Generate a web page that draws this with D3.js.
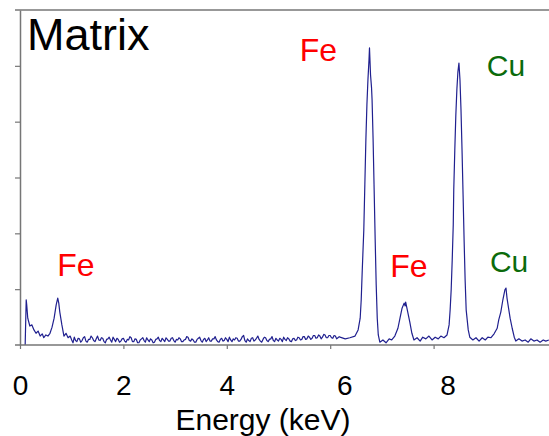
<!DOCTYPE html>
<html>
<head>
<meta charset="utf-8">
<script src="https://cdn.jsdelivr.net/npm/d3@7"></script>
<style>
  body { margin: 0; background: #fff; }
  svg { display: block; font-family: "Liberation Sans", Arial, sans-serif; }
</style>
</head>
<body>
<script>
// EDS spectrum (energy in axis units, intensity in tick units)
var lowEnergy = [0.10, 0.12, 0.13, 0.15, 0.19, 0.23, 0.27, 0.31, 0.35, 0.39, 0.43, 0.46, 0.50, 0.54, 0.58,
                 0.62, 0.66, 0.70, 0.73, 0.75, 0.77, 0.81, 0.85, 0.89, 0.93, 0.97];
var lowCounts = [0.00, 0.81, 0.72, 0.48, 0.34, 0.36, 0.27, 0.21, 0.25, 0.16, 0.20, 0.13, 0.18, 0.16, 0.21,
                 0.32, 0.48, 0.72, 0.84, 0.75, 0.59, 0.36, 0.16, 0.21, 0.13, 0.16];

var baseEnergy = [
  1.000, 1.025, 1.050, 1.075, 1.100, 1.125, 1.150, 1.175, 1.200, 1.225, 1.250, 1.275, 1.300, 1.325, 1.350, 1.375, 1.400, 1.425, 1.450, 1.475,
  1.500, 1.525, 1.550, 1.575, 1.600, 1.625, 1.650, 1.675, 1.700, 1.725, 1.750, 1.775, 1.800, 1.825, 1.850, 1.875, 1.900, 1.925, 1.950, 1.975,
  2.000, 2.025, 2.050, 2.075, 2.100, 2.125, 2.150, 2.175, 2.200, 2.225, 2.250, 2.275, 2.300, 2.325, 2.350, 2.375, 2.400, 2.425, 2.450, 2.475,
  2.500, 2.525, 2.550, 2.575, 2.600, 2.625, 2.650, 2.675, 2.700, 2.725, 2.750, 2.775, 2.800, 2.825, 2.850, 2.875, 2.900, 2.925, 2.950, 2.975,
  3.000, 3.025, 3.050, 3.075, 3.100, 3.125, 3.150, 3.175, 3.200, 3.225, 3.250, 3.275, 3.300, 3.325, 3.350, 3.375, 3.400, 3.425, 3.450, 3.475,
  3.500, 3.525, 3.550, 3.575, 3.600, 3.625, 3.650, 3.675, 3.700, 3.725, 3.750, 3.775, 3.800, 3.825, 3.850, 3.875, 3.900, 3.925, 3.950, 3.975,
  4.000, 4.025, 4.050, 4.075, 4.100, 4.125, 4.150, 4.175, 4.200, 4.225, 4.250, 4.275, 4.300, 4.325, 4.350, 4.375, 4.400, 4.425, 4.450, 4.475,
  4.500, 4.525, 4.550, 4.575, 4.600, 4.625, 4.650, 4.675, 4.700, 4.725, 4.750, 4.775, 4.800, 4.825, 4.850, 4.875, 4.900, 4.925, 4.950, 4.975,
  5.000, 5.025, 5.050, 5.075, 5.100, 5.125, 5.150, 5.175, 5.200, 5.225, 5.250, 5.275, 5.300, 5.325, 5.350, 5.375, 5.400, 5.425, 5.450, 5.475,
  5.500, 5.525, 5.550, 5.575, 5.600, 5.625, 5.650, 5.675, 5.700, 5.725, 5.750, 5.775, 5.800, 5.825, 5.850, 5.875, 5.900, 5.925, 5.950, 5.975,
  6.000, 6.025, 6.050, 6.075, 6.100, 6.125, 6.150, 6.175];
var baseCounts = [
  0.09, 0.04, 0.14, 0.08, 0.06, 0.12, 0.11, 0.05, 0.08, 0.13, 0.15, 0.07, 0.05, 0.10, 0.10, 0.16, 0.13, 0.08, 0.06, 0.11,
  0.16, 0.09, 0.08, 0.13, 0.12, 0.06, 0.04, 0.10, 0.11, 0.14, 0.09, 0.05, 0.14, 0.10, 0.06, 0.12, 0.10, 0.05, 0.07, 0.11,
  0.12, 0.07, 0.05, 0.10, 0.09, 0.15, 0.13, 0.06, 0.06, 0.11, 0.10, 0.04, 0.04, 0.09, 0.11, 0.13, 0.08, 0.05, 0.13, 0.09,
  0.06, 0.11, 0.09, 0.04, 0.05, 0.10, 0.11, 0.14, 0.08, 0.06, 0.12, 0.09, 0.06, 0.13, 0.10, 0.07, 0.07, 0.12, 0.13, 0.08,
  0.05, 0.10, 0.09, 0.13, 0.11, 0.06, 0.06, 0.09, 0.10, 0.15, 0.14, 0.08, 0.07, 0.11, 0.09, 0.05, 0.05, 0.10, 0.12, 0.14,
  0.08, 0.05, 0.10, 0.12, 0.06, 0.09, 0.13, 0.07, 0.07, 0.11, 0.11, 0.15, 0.09, 0.06, 0.05, 0.10, 0.12, 0.07, 0.08, 0.13,
  0.10, 0.06, 0.14, 0.09, 0.06, 0.11, 0.09, 0.13, 0.12, 0.07, 0.07, 0.10, 0.15, 0.17, 0.08, 0.05, 0.11, 0.08, 0.06, 0.12,
  0.13, 0.07, 0.09, 0.12, 0.16, 0.10, 0.07, 0.05, 0.10, 0.14, 0.13, 0.08, 0.06, 0.10, 0.11, 0.15, 0.08, 0.06, 0.12, 0.09,
  0.07, 0.12, 0.10, 0.06, 0.14, 0.10, 0.08, 0.13, 0.11, 0.07, 0.06, 0.11, 0.12, 0.08, 0.09, 0.14, 0.13, 0.09, 0.10, 0.15,
  0.15, 0.10, 0.11, 0.16, 0.14, 0.10, 0.12, 0.17, 0.17, 0.12, 0.13, 0.18, 0.16, 0.11, 0.14, 0.19, 0.18, 0.13, 0.13, 0.17,
  0.17, 0.13, 0.12, 0.17, 0.16, 0.11, 0.13, 0.15];

var peakEnergy = [6.19, 6.29, 6.38, 6.48, 6.54, 6.58, 6.60, 6.62, 6.65, 6.67, 6.69, 6.71, 6.73, 6.75, 6.76, 6.78, 6.80, 6.81,
                  6.83, 6.85, 6.87, 6.89, 6.91, 6.93, 6.96, 7.02, 7.08, 7.14, 7.19, 7.25, 7.31, 7.35, 7.39, 7.43, 7.45, 7.46,
                  7.50, 7.54, 7.58, 7.62, 7.68, 7.74, 7.79, 7.85, 7.91, 7.97, 8.03, 8.09, 8.14, 8.20, 8.26, 8.30, 8.32, 8.34,
                  8.36, 8.38, 8.39, 8.41, 8.43, 8.45, 8.47, 8.49, 8.51, 8.53, 8.55, 8.57, 8.59, 8.61, 8.63, 8.67, 8.70, 8.76,
                  8.82, 8.88, 8.94, 9.00, 9.05, 9.11, 9.17, 9.23, 9.26, 9.30, 9.34, 9.38, 9.40, 9.42, 9.44, 9.48, 9.52, 9.56,
                  9.59, 9.65, 9.71, 9.77, 9.83, 9.88, 9.94, 10.00, 10.06, 10.12, 10.17, 10.23];
var peakCounts = [0.14, 0.11, 0.13, 0.16, 0.27, 0.48, 0.81, 1.34, 2.06, 2.87, 3.67, 4.30, 4.75, 5.10, 5.32, 4.84, 4.60, 4.39,
                  3.67, 2.78, 1.88, 1.07, 0.48, 0.18, 0.05, 0.09, 0.04, 0.11, 0.09, 0.16, 0.30, 0.48, 0.66, 0.75, 0.70, 0.77,
                  0.59, 0.41, 0.21, 0.09, 0.13, 0.07, 0.14, 0.11, 0.16, 0.09, 0.14, 0.11, 0.16, 0.13, 0.18, 0.36, 0.63, 0.99,
                  1.52, 2.15, 2.78, 3.49, 4.12, 4.57, 4.89, 5.05, 4.75, 4.21, 3.49, 2.69, 1.88, 1.16, 0.63, 0.27, 0.14, 0.09,
                  0.13, 0.07, 0.13, 0.09, 0.14, 0.13, 0.20, 0.30, 0.45, 0.59, 0.81, 0.99, 1.02, 0.84, 0.72, 0.48, 0.30, 0.14,
                  0.07, 0.11, 0.07, 0.09, 0.05, 0.11, 0.07, 0.09, 0.05, 0.09, 0.07, 0.09];

var xTicks = [0, 2, 4, 6, 8];
var yTicks = [1, 2, 3, 4, 5];

// element labels: [text, energy, intensity, colour]
var elementLabels = [
  ["Fe", 0.72, 1.23, "#ff0000"],
  ["Fe", 5.41, 5.09, "#ff0000"],
  ["Fe", 7.16, 1.21, "#ff0000"],
  ["Cu", 9.03, 4.81, "#0b6b0b"],
  ["Cu", 9.09, 1.30, "#0b6b0b"]
];

function init() {
  var w = 549, h = 436;

  var energy = lowEnergy.concat(baseEnergy, peakEnergy);
  var counts = lowCounts.concat(baseCounts, peakCounts);
  var spectrum = energy.map(function (e, i) { return [e, counts[i]]; });

  var svg = d3.select("body").append("svg")
    .attr("width", w)
    .attr("height", h);

  var x = d3.scaleLinear().domain([0, 10]).range([20, 537]);
  var y = d3.scaleLinear().domain([0, 6]).range([345, 10]);

  var axisColor = "#767676";

  // frame: top line
  svg.append("line")
    .attr("x1", 15).attr("x2", w)
    .attr("y1", y(6)).attr("y2", y(6))
    .attr("stroke", axisColor).attr("stroke-width", 1.5);

  // left axis, no labels
  var yAxis = d3.axisLeft(y).tickValues(yTicks).tickSize(5).tickFormat("").tickSizeOuter(0);
  var gy = svg.append("g")
    .attr("transform", "translate(" + x(0) + ",0)")
    .call(yAxis);
  gy.select(".domain").attr("stroke", axisColor).attr("stroke-width", 1.5);
  gy.selectAll(".tick line").attr("stroke", axisColor).attr("stroke-width", 1.2);

  // spectrum
  var line = d3.line()
    .x(function (d) { return x(d[0]); })
    .y(function (d) { return y(d[1]); });

  svg.append("path")
    .datum(spectrum)
    .attr("d", line)
    .attr("fill", "none")
    .attr("stroke", "#20208f")
    .attr("stroke-width", 1.2)
    .attr("stroke-linejoin", "round");

  // bottom axis
  var xAxis = d3.axisBottom(x).tickValues(xTicks).tickSize(4).tickSizeOuter(0).tickPadding(26);
  var gx = svg.append("g")
    .attr("transform", "translate(0," + y(0) + ")")
    .call(xAxis);
  gx.select(".domain").remove();
  gx.append("line")
    .attr("x1", 15).attr("x2", w)
    .attr("stroke", axisColor).attr("stroke-width", 1.5);
  gx.selectAll(".tick line").attr("stroke", axisColor).attr("stroke-width", 1.2);
  gx.selectAll(".tick text")
    .attr("fill", "#000")
    .attr("font-size", 28)
    .attr("font-family", "Liberation Sans, Arial, sans-serif")
    .attr("dx", function (d) { return d >= 6 ? 14 : 0; });

  svg.append("text")
    .attr("x", 263)
    .attr("y", 430)
    .attr("text-anchor", "middle")
    .attr("font-size", 30)
    .attr("fill", "#000")
    .text("Energy (keV)");

  svg.append("text")
    .attr("x", 27)
    .attr("y", 50)
    .attr("font-size", 45)
    .attr("fill", "#000")
    .text("Matrix");

  svg.selectAll(".elem")
    .data(elementLabels)
    .enter()
    .append("text")
    .attr("class", "elem")
    .attr("x", function (d) { return x(d[1]); })
    .attr("y", function (d) { return y(d[2]); })
    .attr("font-size", function (d) { return d[0] === "Fe" ? 32 : 30; })
    .attr("fill", function (d) { return d[3]; })
    .text(function (d) { return d[0]; });
}
window.onload = init;
</script>
</body>
</html>
